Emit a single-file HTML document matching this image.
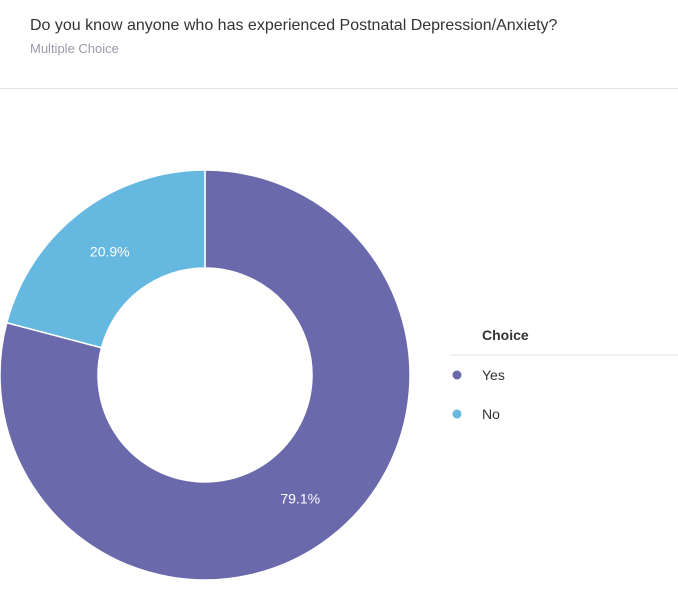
<!DOCTYPE html>
<html><head><meta charset="utf-8"><style>
body{margin:0;width:678px;height:600px;background:#fff;font-family:"Liberation Sans",sans-serif;overflow:hidden;position:relative}
.t{position:absolute;left:30px;top:17px;font-size:16px;color:#333}
.s{position:absolute;left:30px;top:41px;font-size:13px;color:#9a9aa8}
.hr{position:absolute;left:0;top:88px;width:678px;height:1px;background:#e3e3e3}
</style></head><body>
<div class="t">Do you know anyone who has experienced Postnatal Depression/Anxiety?</div>
<div class="s">Multiple Choice</div>
<div class="hr"></div>
<svg id="c" width="678" height="600" style="position:absolute;left:0;top:0">
<text x="482" y="340" font-size="14" font-weight="bold" fill="#333">Choice</text>
<line x1="450" y1="355" x2="678" y2="355" stroke="#e3e3e3"/>
</svg>
<script>
const categories=["Yes","No"];
const values=[79.1,20.9];
const labels=["79.1%","20.9%"];
const colors=["#6a69ab","#65b8e0"];
const svg=document.getElementById('c'),NS="http://www.w3.org/2000/svg";
const cx=205,cy=375,R=205,r=107,LR=156;
const tot=values.reduce((a,b)=>a+b,0);
function pt(a,rad){return [cx+rad*Math.sin(a),cy-rad*Math.cos(a)];}
let start=0;
values.forEach((v,i)=>{
 const end=start+v/tot*2*Math.PI,lg=(end-start)>Math.PI?1:0;
 const [x1,y1]=pt(start,R),[x2,y2]=pt(end,R),[x3,y3]=pt(end,r),[x4,y4]=pt(start,r);
 const p=document.createElementNS(NS,'path');
 p.setAttribute('d',`M${x1},${y1}A${R},${R} 0 ${lg} 1 ${x2},${y2}L${x3},${y3}A${r},${r} 0 ${lg} 0 ${x4},${y4}Z`);
 p.setAttribute('fill',colors[i]);p.setAttribute('stroke','#fff');p.setAttribute('stroke-width','1.5');
 
 
 svg.appendChild(p);
 const [lx,ly]=pt((start+end)/2,LR);
 const t=document.createElementNS(NS,'text');
 t.setAttribute('x',lx);t.setAttribute('y',ly+5);t.setAttribute('text-anchor','middle');
 t.setAttribute('font-size','14');t.setAttribute('fill','#fff');t.textContent=labels[i];
 
 
 svg.appendChild(t);
 const c=document.createElementNS(NS,'circle');
 c.setAttribute('cx',457);c.setAttribute('cy',375+i*39);c.setAttribute('r',4.5);c.setAttribute('fill',colors[i]);
 
 
 svg.appendChild(c);
 const lt=document.createElementNS(NS,'text');
 lt.setAttribute('x',482);lt.setAttribute('y',380+i*39);lt.setAttribute('font-size','14');lt.setAttribute('fill','#333');lt.textContent=categories[i];
 
 
 svg.appendChild(lt);
 start=end;
});
</script>
</body></html>
